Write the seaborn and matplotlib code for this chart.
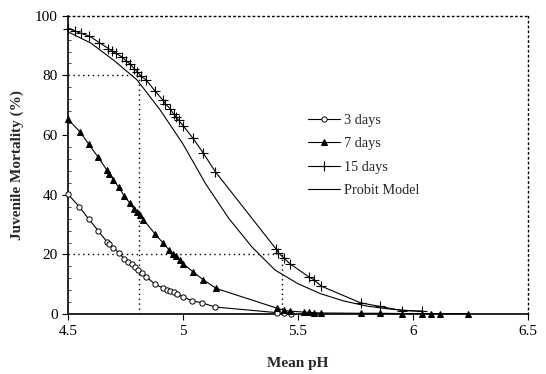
import matplotlib
matplotlib.use("Agg")
import matplotlib.pyplot as plt
import seaborn as sns
import pandas as pd
from matplotlib.ticker import MultipleLocator

# values
ph_3 = [4.50, 4.549, 4.590, 4.631, 4.671, 4.679, 4.697, 4.721, 4.745, 4.763, 4.778,
        4.792, 4.805, 4.821, 4.840, 4.879, 4.915, 4.930, 4.944, 4.959, 4.976, 5.000,
        5.039, 5.083, 5.139, 5.409, 5.438, 5.470]
mort_3 = [40.2, 36.0, 31.9, 28.0, 24.1, 23.4, 22.2, 20.6, 18.5, 17.5, 16.7,
          15.8, 14.9, 13.8, 12.5, 10.0, 8.7, 8.1, 7.7, 7.3, 6.7, 5.8,
          4.5, 3.8, 2.4, 0.5, 0.3, 0.2]

ph_7 = [4.50, 4.552, 4.590, 4.632, 4.669, 4.679, 4.697, 4.721, 4.744, 4.770, 4.785,
        4.799, 4.814, 4.828, 4.879, 4.913, 4.941, 4.956, 4.971, 4.985, 5.002, 5.043,
        5.087, 5.145, 5.409, 5.438, 5.464, 5.525, 5.547, 5.569, 5.601, 5.772, 5.855,
        5.954, 6.041, 6.080, 6.118, 6.240]
mort_7 = [65.3, 61.1, 57.0, 52.5, 48.3, 47.1, 45.1, 42.5, 39.7, 37.1, 35.4,
          34.3, 33.2, 31.7, 26.8, 23.9, 21.4, 20.3, 19.4, 18.3, 16.8, 14.2,
          11.6, 8.6, 2.0, 1.3, 1.0, 0.7, 0.6, 0.5, 0.4, 0.3, 0.3,
          0.2, 0.2, 0.2, 0.2, 0.2]

ph_15 = [4.50, 4.530, 4.555, 4.593, 4.636, 4.676, 4.690, 4.709, 4.734, 4.753, 4.770,
         4.788, 4.802, 4.817, 4.840, 4.879, 4.913, 4.923, 4.944, 4.959, 4.971, 4.981,
         5.002, 5.043, 5.087, 5.141, 5.406, 5.415, 5.438, 5.467, 5.547, 5.569, 5.601,
         5.772, 5.855, 5.954, 6.041]
mort_15 = [95.7, 94.9, 94.1, 93.2, 91.0, 89.0, 88.2, 87.4, 86.2, 84.9, 83.8,
           82.3, 81.2, 79.8, 78.5, 74.7, 71.7, 70.5, 68.9, 67.0, 66.1, 65.0,
           63.0, 59.0, 54.1, 47.7, 21.7, 20.6, 18.8, 16.8, 12.5, 11.6, 9.4,
           3.8, 2.6, 1.2, 1.0]

ph_probit = [4.5, 4.6, 4.7, 4.8, 4.9, 5.0, 5.1, 5.2, 5.3, 5.4, 5.5, 5.6, 5.7, 5.8, 5.9, 6.0, 6.05]
mort_probit = [94.6, 90.8, 85.0, 78.5, 68.5, 57.0, 43.5, 32.0, 22.5, 14.8, 10.2, 6.8,
               4.4, 2.7, 1.7, 1.1, 0.9]

# dotted guide lines (LT80 / LT20)
guide_ph = [4.81, 5.43]
guide_mort = [80, 20]

x_ticks = [4.5, 5.0, 5.5, 6.0, 6.5]
x_labels = ["4.5", "5", "5.5", "6", "6.5"]
y_ticks = [0, 20, 40, 60, 80, 100]

sns.set_style("ticks")
plt.rcParams['font.family'] = ['Liberation Serif', 'DejaVu Serif']

fig = plt.figure(figsize=(5.46, 3.74), dpi=100)
ax = fig.add_axes([0.1245, 0.160, 0.8425, 0.798])

for gx, gy in zip(guide_ph, guide_mort):
    ax.plot([4.5, gx], [gy, gy], color='black', ls=(0, (1, 2.5)), lw=1)
    ax.plot([gx, gx], [0, gy], color='black', ls=(0, (1, 2.5)), lw=1)

sns.lineplot(x=ph_3, y=mort_3, ax=ax, sort=False, estimator=None, color='black', lw=0.8,
             marker='o', markersize=3.8, markerfacecolor='white', markeredgecolor='black',
             markeredgewidth=0.7, label='3 days', clip_on=False, zorder=4)
sns.lineplot(x=ph_7, y=mort_7, ax=ax, sort=False, estimator=None, color='black', lw=0.8,
             marker='^', markersize=4.6, markerfacecolor='black', markeredgecolor='black',
             label='7 days', clip_on=False, zorder=4)
sns.lineplot(x=ph_15, y=mort_15, ax=ax, sort=False, estimator=None, color='black', lw=0.8,
             marker='+', markersize=6.5, markeredgewidth=0.8, markeredgecolor='black',
             label='15 days', clip_on=False, zorder=4)
sns.lineplot(x=ph_probit, y=mort_probit, ax=ax, sort=False, estimator=None, color='black',
             lw=0.8, label='Probit Model', clip_on=False, zorder=3)

ax.set_xlim(4.5, 6.5)
ax.set_ylim(0, 100)
ax.set_xticks(x_ticks)
ax.set_xticklabels(x_labels)
ax.set_yticks(y_ticks)
ax.yaxis.set_minor_locator(MultipleLocator(4))
ax.tick_params(axis='both', which='major', direction='out', length=4, width=0.8,
               labelsize=11, colors='black')
ax.tick_params(axis='y', which='minor', direction='in', length=2, width=0.6)

for side in ['top', 'right']:
    ax.spines[side].set_linestyle((0, (1, 2.5)))
    ax.spines[side].set_linewidth(1)
for side in ['left', 'bottom']:
    ax.spines[side].set_linewidth(1.2)
for s in ax.spines.values():
    s.set_color('black')

ax.set_xlabel('Mean pH', fontsize=11, fontweight='bold', labelpad=14)
ax.set_ylabel('Juvenile Mortality (%)', fontsize=11, fontweight='bold', labelpad=8)

ax.legend(loc='upper left', bbox_to_anchor=(0.51, 0.69), frameon=False, fontsize=10.3,
          handlelength=2.2, handletextpad=0.3, labelspacing=0.72, borderaxespad=0)

fig.savefig('out.png', dpi=100)
